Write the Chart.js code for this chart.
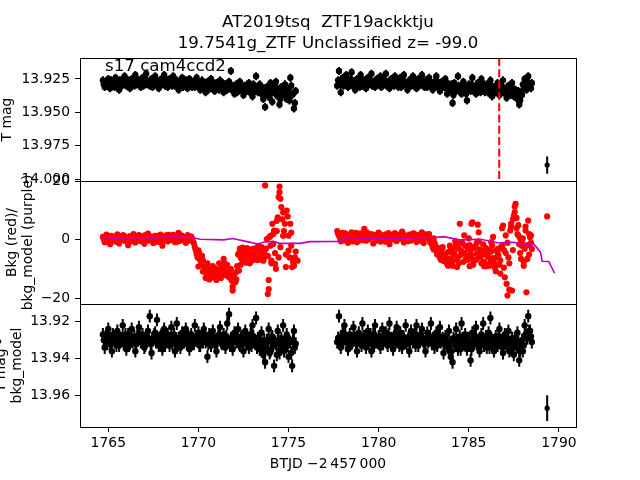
<!DOCTYPE html>
<html><head><meta charset="utf-8">
<script src="https://cdn.jsdelivr.net/npm/chart.js@4/dist/chart.umd.min.js"></script>
<style>html,body{margin:0;padding:0;background:#fff;}canvas{display:block;}</style>
</head><body>
<canvas id="c" width="640" height="480"></canvas>
<script>
// ---- data ----
const seg1Time = [1764.7,1764.8,1764.9,
1765.0,1765.1,1765.2,1765.3,1765.4,1765.5,1765.6,1765.7,1765.8,1765.9,
1766.0,1766.1,1766.2,1766.3,1766.4,1766.5,1766.6,1766.7,1766.8,1766.9,
1767.0,1767.1,1767.2,1767.3,1767.4,1767.5,1767.6,1767.7,1767.8,1767.9,
1768.0,1768.1,1768.2,1768.3,1768.4,1768.5,1768.6,1768.7,1768.8,1768.9,
1769.0,1769.1,1769.2,1769.3,1769.4,1769.5,1769.6,1769.7,1769.8,1769.9,
1770.0,1770.1,1770.2,1770.3,1770.4,1770.5,1770.6,1770.7,1770.8,1770.9,
1771.0,1771.1,1771.2,1771.3,1771.4,1771.5,1771.6,1771.7,1771.8,1771.9,
1772.0,1772.1,1772.2,1772.3,1772.4,1772.5,1772.6,1772.7,1772.8,1772.9,
1773.0,1773.1,1773.2,1773.3,1773.4,1773.5,1773.6,1773.7,1773.8,1773.9,
1774.0,1774.1,1774.2,1774.3,1774.4,1774.5,1774.6,1774.7,1774.8,1774.9,
1775.0,1775.1,1775.2,1775.3,1775.4];
const seg1TimeB = [1764.75,1764.85,1764.95,
1765.05,1765.15,1765.25,1765.35,1765.45,1765.55,1765.65,1765.75,1765.85,1765.95,
1766.05,1766.15,1766.25,1766.35,1766.45,1766.55,1766.65,1766.75,1766.85,1766.95,
1767.05,1767.15,1767.25,1767.35,1767.45,1767.55,1767.65,1767.75,1767.85,1767.95,
1768.05,1768.15,1768.25,1768.35,1768.45,1768.55,1768.65,1768.75,1768.85,1768.95,
1769.05,1769.15,1769.25,1769.35,1769.45,1769.55,1769.65,1769.75,1769.85,1769.95,
1770.05,1770.15,1770.25,1770.35,1770.45,1770.55,1770.65,1770.75,1770.85,1770.95,
1771.05,1771.15,1771.25,1771.35,1771.45,1771.55,1771.65,1771.75,1771.85,1771.95,
1772.05,1772.15,1772.25,1772.35,1772.45,1772.55,1772.65,1772.75,1772.85,1772.95,
1773.05,1773.15,1773.25,1773.35,1773.45,1773.55,1773.65,1773.75,1773.85,1773.95,
1774.05,1774.15,1774.25,1774.35,1774.45,1774.55,1774.65,1774.75,1774.85,1774.95,
1775.05,1775.15,1775.25,1775.35];
const seg2Time = [1777.7,1777.8,1777.9,
1778.0,1778.1,1778.2,1778.3,1778.4,1778.5,1778.6,1778.7,1778.8,1778.9,
1779.0,1779.1,1779.2,1779.3,1779.4,1779.5,1779.6,1779.7,1779.8,1779.9,
1780.0,1780.1,1780.2,1780.3,1780.4,1780.5,1780.6,1780.7,1780.8,1780.9,
1781.0,1781.1,1781.2,1781.3,1781.4,1781.5,1781.6,1781.7,1781.8,1781.9,
1782.0,1782.1,1782.2,1782.3,1782.4,1782.5,1782.6,1782.7,1782.8,1782.9,
1783.0,1783.1,1783.2,1783.3,1783.4,1783.5,1783.6,1783.7,1783.8,1783.9,
1784.0,1784.1,1784.2,1784.3,1784.4,1784.5,1784.6,1784.7,1784.8,1784.9,
1785.0,1785.1,1785.2,1785.3,1785.4,1785.5,1785.6,1785.7,1785.8,1785.9,
1786.0,1786.1,1786.2,1786.3,1786.4,1786.5,1786.6,1786.7,1786.8,1786.9,
1787.0,1787.1,1787.2,1787.3,1787.4,1787.5,1787.6,1787.7,1787.8,1787.9,
1788.0,1788.1,1788.2,1788.3,1788.4,1788.5];
const seg2TimeB = [1777.75,1777.85,1777.95,
1778.05,1778.15,1778.25,1778.35,1778.45,1778.55,1778.65,1778.75,1778.85,1778.95,
1779.05,1779.15,1779.25,1779.35,1779.45,1779.55,1779.65,1779.75,1779.85,1779.95,
1780.05,1780.15,1780.25,1780.35,1780.45,1780.55,1780.65,1780.75,1780.85,1780.95,
1781.05,1781.15,1781.25,1781.35,1781.45,1781.55,1781.65,1781.75,1781.85,1781.95,
1782.05,1782.15,1782.25,1782.35,1782.45,1782.55,1782.65,1782.75,1782.85,1782.95,
1783.05,1783.15,1783.25,1783.35,1783.45,1783.55,1783.65,1783.75,1783.85,1783.95,
1784.05,1784.15,1784.25,1784.35,1784.45,1784.55,1784.65,1784.75,1784.85,1784.95,
1785.05,1785.15,1785.25,1785.35,1785.45,1785.55,1785.65,1785.75,1785.85,1785.95,
1786.05,1786.15,1786.25,1786.35,1786.45,1786.55,1786.65,1786.75,1786.85,1786.95,
1787.05,1787.15,1787.25,1787.35,1787.45,1787.55,1787.65,1787.75,1787.85,1787.95,
1788.05,1788.15,1788.25,1788.35,1788.45];

// T mag
const tmag1 = [13.926,13.931,13.929,13.925,13.932,13.927,13.930,13.924,13.929,13.933,
13.926,13.928,13.923,13.930,13.926,13.932,13.925,13.928,13.922,13.929,
13.926,13.931,13.924,13.928,13.921,13.927,13.930,13.925,13.929,13.923,
13.928,13.932,13.926,13.929,13.922,13.927,13.931,13.925,13.928,13.923,
13.930,13.926,13.933,13.927,13.924,13.929,13.926,13.932,13.925,13.929,
13.927,13.931,13.924,13.929,13.933,13.926,13.930,13.935,13.927,13.931,
13.925,13.930,13.934,13.928,13.932,13.926,13.931,13.935,13.929,13.933,
13.927,13.919,13.931,13.936,13.929,13.933,13.927,13.932,13.937,13.930,
13.934,13.928,13.933,13.938,13.930,13.923,13.935,13.929,13.936,13.940,
13.946,13.931,13.937,13.928,13.942,13.934,13.927,13.938,13.944,13.931,
13.936,13.929,13.940,13.933,13.924,13.937,13.947,13.934];
const tmag1B = [13.929,13.927,13.930,13.928,13.926,13.929,13.931,13.927,13.929,13.926,
13.930,13.928,13.927,13.929,13.931,13.926,13.928,13.930,13.927,13.929,
13.926,13.928,13.930,13.925,13.929,13.927,13.928,13.931,13.926,13.929,
13.927,13.929,13.925,13.928,13.930,13.926,13.929,13.927,13.930,13.926,
13.928,13.930,13.927,13.929,13.931,13.928,13.930,13.927,13.929,13.931,
13.928,13.930,13.927,13.931,13.929,13.932,13.928,13.930,13.933,13.929,
13.932,13.928,13.931,13.929,13.933,13.930,13.928,13.932,13.930,13.931,
13.929,13.933,13.930,13.932,13.935,13.929,13.931,13.934,13.930,13.933,
13.931,13.935,13.932,13.929,13.934,13.931,13.933,13.930,13.935,13.932,
13.936,13.933,13.939,13.931,13.935,13.930,13.937,13.933,13.940,13.934,
13.931,13.937,13.935,13.941,13.930,13.936,13.943];
const tmag2 = [13.930,13.919,13.935,13.924,13.929,13.922,13.931,13.926,13.920,13.928,
13.933,13.925,13.929,13.922,13.930,13.926,13.932,13.924,13.928,13.921,
13.927,13.931,13.925,13.929,13.923,13.930,13.926,13.921,13.928,13.932,
13.925,13.929,13.923,13.927,13.931,13.924,13.929,13.922,13.928,13.933,
13.926,13.930,13.923,13.928,13.932,13.925,13.929,13.922,13.930,13.926,
13.931,13.924,13.929,13.933,13.927,13.923,13.930,13.934,13.927,13.931,
13.925,13.936,13.929,13.933,13.943,13.928,13.934,13.923,13.931,13.936,
13.927,13.932,13.941,13.929,13.934,13.924,13.931,13.936,13.928,13.933,
13.925,13.930,13.935,13.929,13.933,13.926,13.938,13.931,13.935,13.928,
13.937,13.932,13.926,13.934,13.939,13.930,13.935,13.928,13.938,13.933,
13.940,13.944,13.936,13.929,13.925,13.933,13.923,13.930,13.928];
const tmag2B = [13.926,13.929,13.927,13.930,13.926,13.928,13.929,13.925,13.930,13.927,
13.929,13.927,13.931,13.926,13.928,13.930,13.927,13.929,13.926,13.930,
13.928,13.926,13.929,13.927,13.931,13.928,13.926,13.930,13.927,13.929,
13.926,13.930,13.928,13.927,13.929,13.931,13.926,13.928,13.930,13.927,
13.929,13.927,13.930,13.926,13.928,13.930,13.927,13.929,13.931,13.928,
13.927,13.930,13.928,13.931,13.929,13.927,13.932,13.929,13.931,13.928,
13.932,13.930,13.934,13.929,13.937,13.931,13.933,13.930,13.935,13.932,
13.930,13.936,13.931,13.933,13.929,13.934,13.931,13.933,13.930,13.935,
13.932,13.929,13.934,13.931,13.936,13.930,13.933,13.935,13.931,13.934,
13.930,13.935,13.932,13.936,13.931,13.934,13.937,13.932,13.935,13.938,
13.934,13.941,13.937,13.932,13.930,13.927,13.929,13.932];
const tmagErr = 0.003;
const loneTime = 1789.35;
const loneTmag = 13.9894;
const loneTmagErr = 0.0065;

// Background (red) and background model (purple)
const bkg1 = [1.0,-0.8,1.8,0.2,-1.5,1.2,0.5,-0.6,1.9,-1.2,
0.8,1.5,-0.3,0.9,-1.8,1.3,0.1,2.0,-0.9,0.6,
1.6,-0.4,1.1,-1.3,0.7,2.1,-0.2,1.0,-1.1,1.4,
0.3,-0.7,1.8,-2.0,0.9,1.5,-0.5,1.2,0.0,1.7,
-0.8,0.6,2.4,-0.3,1.3,0.4,-1.0,1.6,0.2,1.1,
-0.6,-2.5,-4.8,-3.6,-7.0,-5.5,-9.2,-13.0,-8.0,-10.5,
-12.0,-9.0,-11.5,-13.7,-10.2,-12.5,-9.5,-6.5,-11.0,-8.5,
-12.8,-10.0,-16.0,-13.0,-11.0,-5.0,-3.0,-6.5,-4.2,-7.5,
-2.8,-5.8,-4.0,-7.0,-3.5,-6.2,-2.2,-5.0,-2.5,-7.1,
18.6,0.3,-13.7,-2.0,5.5,3.2,-9.9,7.7,18.2,11.2,
9.4,5.5,10.0,-3.7,5.5,-9.3,-8.8,-4.0];
const bkg1B = [0.2,1.1,-0.4,0.8,1.4,-0.2,0.6,1.2,-0.6,0.9,
0.3,1.5,-0.1,0.7,1.0,-0.5,0.4,1.3,0.0,0.8,
-0.3,1.1,0.5,1.6,-0.2,0.7,1.2,0.1,-0.8,0.9,
1.4,0.2,0.6,-0.4,1.0,0.3,1.7,-0.1,0.8,0.5,
1.2,-0.6,0.4,1.5,0.0,0.9,0.6,-0.3,1.1,0.4,
-1.2,-3.5,-6.0,-4.5,-8.5,-7.0,-10.8,-9.5,-11.8,-10.0,
-12.5,-10.8,-9.8,-12.0,-11.2,-13.0,-10.5,-8.0,-12.2,-10.6,
-11.5,-13.5,-12.0,-14.5,-9.0,
-4.5,-6.0,-3.5,-5.5,-7.8,-4.8,-3.2,-6.5,-5.0,-4.0,-6.8,-3.0,-5.8,-4.2,-6.0,
-3.0,-5.5,1.0,-8.0,2.0,-4.5,6.5,-6.0,14.0,7.0,
3.0,-5.0,8.0,-6.0,2.5,-7.5,-6.0];
const bkg2 = [3.0,1.5,-0.5,2.4,0.3,1.8,-1.0,1.2,2.6,0.1,
1.6,-0.8,1.0,2.2,0.4,3.8,-0.3,1.4,0.8,2.0,
-1.2,1.1,0.5,2.5,-0.6,1.3,0.0,1.9,0.7,-1.5,
1.7,0.2,2.3,-0.4,1.0,0.6,2.8,-0.9,1.4,0.3,
1.8,-0.2,2.1,0.9,-0.7,1.5,0.4,2.6,-1.1,1.2,
0.7,2.0,0.0,-2.5,-1.0,-4.0,-2.8,-6.0,-3.5,-7.2,
-5.0,-8.2,-6.5,-3.0,-8.8,-4.5,-1.5,-6.0,5.5,-3.8,
-7.5,-2.0,-5.5,0.5,-4.0,6.0,-2.8,-6.8,5.2,-3.2,
-8.0,-1.5,-5.0,-9.0,-3.5,-6.5,-2.0,-7.8,-10.7,-4.5,
-8.5,-2.5,4.9,-12.8,-15.0,-6.0,3.2,-17.3,8.3,12.3,
2.0,-1.5,-6.5,0.5,-3.0,-17.9,6.6,0.9,-3.1];
const bkg2B = [2.0,0.8,1.6,-0.2,2.2,1.0,0.4,1.8,-0.5,1.3,
2.4,0.6,1.1,-0.1,1.9,0.7,2.6,0.2,1.4,0.9,
1.7,-0.3,1.2,2.0,0.5,1.5,-0.6,1.0,2.3,0.3,
1.6,0.9,-0.2,1.8,1.1,0.4,2.1,0.6,1.3,-0.4,
1.5,0.8,2.2,0.2,1.0,1.7,-0.3,1.2,0.5,1.9,
1.0,-0.8,-1.5,
-3.2,-2.0,-5.0,-4.0,-6.8,-2.5,-5.8,
-7.0,-4.2,-2.0,-6.2,-4.8,-0.5,-7.0,-3.0,-5.2,-1.0,
-4.5,-6.5,-3.0,-1.8,-5.5,-7.2,-2.2,-4.8,-0.5,-6.0,
-3.8,-7.5,-2.8,-5.2,-8.2,-4.0,-6.2,-9.0,-3.5,-5.5,
-7.0,-2.0,-9.5,-4.5,-1.0,-8.0,5.5,-3.5,9.5,4.0,
1.5,-4.5,-2.0,-7.5,4.5,-1.8,-5.0,1.5];
const bkgExtraTime = [1770.0,1770.45,1770.8,1771.15,1771.35,1771.9,1771.85,1772.25,1772.1,1772.35,
1772.65,1772.85,1773.05,1773.35,1773.55,1773.9,1773.85,1774.0,1774.05,1774.15,
1774.35,1774.5,1774.45,1774.55,1774.7,1774.85,1775.0,1775.15,1775.5,1774.25,
1773.65,1772.45,1772.95,1771.55,1770.6,1770.25,
1783.05,1783.45,1783.85,1784.05,1784.25,1784.45,1784.55,1784.75,1784.95,1785.15,
1785.25,1785.45,1785.55,1785.75,1785.85,1786.05,1786.15,1786.35,1786.45,1786.55,
1786.75,1786.85,1786.95,1787.05,1787.15,1787.25,1787.35,1787.45,1787.55,1787.65,
1787.75,1787.85,1787.95,1788.05,1788.15,1788.25,1788.35,1788.45,1785.05,1784.35,
1786.25,1786.65,1789.35];
const bkgExtraVals = [-9.1,-11.5,-12.8,-8.0,-12.0,-17.3,-14.0,-10.5,-13.5,-8.5,
-4.8,-8.0,-3.0,-6.8,-5.4,-16.8,-18.5,1.4,-7.1,-1.4,
3.0,16.3,14.6,-2.5,1.4,-9.3,1.4,-2.0,-7.1,-8.2,
-4.0,-2.6,-5.5,-9.8,-13.5,-10.8,
0.5,-5.0,-8.8,-7.5,-2.5,-8.0,-1.0,1.5,-6.8,5.5,
-8.5,-1.0,2.6,-4.5,-9.0,-5.8,-8.8,1.0,-9.5,-6.0,
-11.5,4.0,-3.5,1.5,-19.0,-17.0,4.5,7.0,11.4,7.5,
5.0,0.5,-0.6,-8.8,3.2,-6.5,2.0,-1.0,-9.0,-9.3,
-0.8,-3.0,8.0];
const modelTime = [1764.63,1765.5,1766.5,1767.5,1768.3,1768.8,1769.7,1770.1,1771.4,1771.9,
1772.7,1773.3,1773.6,1774.15,1774.5,1775.6,1776.2,1777.7,1778.4,1779.35,
1781.0,1783.05,1783.6,1784.5,1785.65,1786.6,1787.5,1788.25,1788.6,1788.98,
1789.07,1789.44,1789.76];
const modelVals = [0.7,0.6,0.8,0.6,1.0,1.1,0.7,0.2,0.0,0.45,
-0.6,-1.4,-0.8,-0.5,-1.2,-1.2,-0.6,-0.5,0.8,0.45,
0.5,0.8,1.1,0.0,0.2,-1.0,-0.8,-1.7,-1.4,-4.2,
-7.3,-7.4,-11.4];

// T mag - bkg_model
const diff1 = [13.927,13.934,13.929,13.924,13.932,13.936,13.928,13.931,13.925,13.933,
13.929,13.922,13.930,13.935,13.927,13.932,13.924,13.930,13.936,13.928,
13.923,13.931,13.927,13.934,13.929,13.925,13.917,13.937,13.930,13.926,
13.919,13.933,13.928,13.935,13.924,13.931,13.927,13.933,13.923,13.930,
13.936,13.921,13.929,13.934,13.926,13.931,13.924,13.929,13.935,13.927,
13.932,13.922,13.930,13.926,13.933,13.928,13.924,13.931,13.939,13.927,
13.933,13.925,13.930,13.936,13.928,13.923,13.932,13.927,13.934,13.921,
13.916,13.929,13.935,13.926,13.931,13.924,13.933,13.928,13.936,13.925,
13.930,13.934,13.927,13.922,13.931,13.918,13.929,13.935,13.926,13.938,
13.942,13.930,13.924,13.936,13.928,13.944,13.932,13.925,13.937,13.929,
13.922,13.934,13.927,13.939,13.931,13.944,13.925,13.932];
const diff1B = [13.930,13.928,13.932,13.929,13.931,13.927,13.930,13.933,13.928,13.931,
13.929,13.932,13.927,13.930,13.933,13.929,13.931,13.928,13.932,13.930,
13.927,13.931,13.929,13.933,13.928,13.930,13.932,13.929,13.927,13.931,
13.929,13.932,13.927,13.930,13.933,13.928,13.931,13.929,13.932,13.927,
13.930,13.933,13.929,13.931,13.927,13.930,13.932,13.928,13.931,13.929,
13.932,13.928,13.930,13.933,13.929,13.931,13.927,13.930,13.932,13.929,
13.931,13.928,13.933,13.930,13.927,13.931,13.929,13.932,13.928,13.930,
13.933,13.929,13.931,13.927,13.930,13.932,13.929,13.931,13.928,13.932,
13.929,13.931,13.933,13.928,13.930,13.934,13.929,13.932,13.936,13.930,
13.934,13.931,13.937,13.929,13.933,13.931,13.938,13.930,13.934,13.932,
13.936,13.929,13.933,13.931,13.937,13.930,13.934];
const diff2 = [13.931,13.917,13.934,13.926,13.922,13.930,13.935,13.927,13.932,13.923,
13.929,13.936,13.926,13.931,13.921,13.928,13.934,13.925,13.930,13.936,
13.927,13.922,13.931,13.928,13.934,13.924,13.930,13.926,13.933,13.921,
13.929,13.935,13.927,13.923,13.931,13.926,13.934,13.929,13.922,13.930,
13.936,13.925,13.931,13.927,13.922,13.933,13.928,13.924,13.931,13.936,
13.926,13.930,13.921,13.929,13.934,13.926,13.931,13.923,13.930,13.937,
13.928,13.933,13.925,13.939,13.942,13.930,13.924,13.935,13.928,13.921,
13.932,13.927,13.935,13.929,13.941,13.926,13.932,13.923,13.930,13.936,
13.927,13.921,13.931,13.934,13.926,13.918,13.930,13.936,13.928,13.933,
13.924,13.930,13.937,13.927,13.932,13.925,13.935,13.929,13.938,13.931,
13.926,13.941,13.933,13.936,13.922,13.929,13.917,13.925,13.931];
const diff2B = [13.929,13.932,13.928,13.931,13.927,13.930,13.933,13.929,13.931,13.928,
13.932,13.929,13.930,13.933,13.928,13.931,13.929,13.932,13.927,13.930,
13.933,13.929,13.931,13.928,13.930,13.932,13.929,13.931,13.927,13.930,
13.932,13.928,13.931,13.929,13.933,13.930,13.928,13.931,13.932,13.929,
13.931,13.928,13.930,13.933,13.929,13.931,13.927,13.930,13.932,13.929,
13.931,13.928,13.932,13.930,13.929,13.933,13.928,13.931,13.929,13.932,
13.930,13.934,13.931,13.936,13.929,13.933,13.930,13.932,13.935,13.929,
13.931,13.933,13.929,13.932,13.935,13.930,13.928,13.932,13.934,13.929,
13.931,13.933,13.928,13.931,13.934,13.929,13.932,13.930,13.933,13.928,
13.931,13.934,13.929,13.932,13.930,13.936,13.931,13.933,13.929,13.934,
13.931,13.936,13.930,13.933,13.927,13.929,13.925,13.928];
const diffErr = 0.0035;
const loneDiff = 13.967;
const loneDiffErr = 0.007;

const markerTime = 1786.69;
const xTicks = [1765,1770,1775,1780,1785,1790];
const y1Ticks = [13.925,13.950,13.975,14.000];
const y2Ticks = [-20,0,20];
const y3Ticks = [13.92,13.94,13.96];
const titleLines = ['AT2019tsq  ZTF19ackktju','19.7541g_ZTF Unclassified z= -99.0'];
const panelNote = 's17 cam4ccd2';

// ---- build ----
const FAM = '"DejaVu Sans", sans-serif';
const pts = (xs, ys) => xs.map((t,i)=>({x:t, y:ys[i]}));
const tmagPts = pts(seg1Time,tmag1).concat(pts(seg1TimeB,tmag1B), pts(seg2Time,tmag2), pts(seg2TimeB,tmag2B));
const diffPts = pts(seg1Time,diff1).concat(pts(seg1TimeB,diff1B), pts(seg2Time,diff2), pts(seg2TimeB,diff2B));
const bkgPts = pts(seg1Time,bkg1).concat(pts(seg1TimeB,bkg1B), pts(seg2Time,bkg2), pts(seg2TimeB,bkg2B), pts(bkgExtraTime,bkgExtraVals));
const modelPts = pts(modelTime,modelVals);

const minus = s => String(s).replace('-', '\u2212');

function yScale(extra){
  return Object.assign({
    type:'linear', position:'left', stack:'panels', stackWeight:1, offset:false,
    border:{display:false},
    grid:{drawOnChartArea:false, drawTicks:true, tickLength:5, tickColor:'#000', tickWidth:1},
    afterFit(s){ s.width = 60; }
  }, extra);
}
const tickFont = {family:FAM, size:13.9};

const errPlugin = {
  id:'errbars',
  beforeDatasetsDraw(chart){
    const ctx = chart.ctx;
    chart.data.datasets.forEach((ds,di)=>{
      if(!ds.errVal) return;
      const meta = chart.getDatasetMeta(di);
      const xs = chart.scales[meta.xAxisID], ys = chart.scales[meta.yAxisID];
      ctx.save();
      ctx.strokeStyle = '#000'; ctx.lineWidth = 2;
      ctx.beginPath();
      ds.data.forEach(p=>{
        const px = xs.getPixelForValue(p.x);
        ctx.moveTo(px, ys.getPixelForValue(p.y - ds.errVal));
        ctx.lineTo(px, ys.getPixelForValue(p.y + ds.errVal));
      });
      ctx.stroke(); ctx.restore();
    });
  }
};

function vtext(ctx, text, x, y){
  ctx.save(); ctx.translate(x,y); ctx.rotate(-Math.PI/2);
  ctx.textAlign='center'; ctx.textBaseline='alphabetic';
  ctx.fillText(text,0,0); ctx.restore();
}

const decorPlugin = {
  id:'decor',
  afterDatasetsDraw(chart){
    const {ctx, scales} = chart;
    const xp = scales.x.getPixelForValue(markerTime);
    ctx.save();
    ctx.strokeStyle = '#ff0000'; ctx.lineWidth = 2; ctx.setLineDash([8,3.3]);
    ctx.beginPath(); ctx.moveTo(xp, scales.y1.top); ctx.lineTo(xp, scales.y1.bottom); ctx.stroke();
    ctx.restore();
  },
  afterDraw(chart){
    const {ctx, chartArea:a, scales} = chart;
    ctx.save();
    ctx.strokeStyle = '#000'; ctx.lineWidth = 1;
    ['y1','y2','y3'].forEach(id=>{
      const s = scales[id];
      ctx.strokeRect(Math.round(a.left)+0.5, Math.round(s.top)+0.5, Math.round(a.right-a.left), Math.round(s.bottom-s.top));
    });
    ctx.fillStyle = '#000';
    ctx.font = '16.67px ' + FAM; ctx.textAlign='center'; ctx.textBaseline='alphabetic';
    const cx = (a.left + a.right)/2;
    ctx.fillText(titleLines[0], cx, 27);
    ctx.fillText(titleLines[1], cx, 48);
    ctx.textAlign='left';
    ctx.fillText(panelNote, 105, 71);
    ctx.font = '13.9px ' + FAM;
    ctx.textAlign='center';
    ctx.fillText('BTJD \u22122\u2009457\u2009000', cx, 468);
    const c1 = (scales.y1.top+scales.y1.bottom)/2;
    const c2 = (scales.y2.top+scales.y2.bottom)/2;
    const c3 = (scales.y3.top+scales.y3.bottom)/2;
    vtext(ctx, 'T mag', 10.8, c1);
    vtext(ctx, 'Bkg (red)/', 15.5, c2);
    vtext(ctx, 'bkg_model (purple)', 32.2, c2);
    vtext(ctx, 'T mag -', 4.5, c3);
    vtext(ctx, 'bkg_model', 21.2, c3);
    ctx.restore();
  }
};

const ptStyle = (c,r) => ({pointRadius:r, pointHoverRadius:r, pointBorderWidth:0, pointBackgroundColor:c, backgroundColor:c, borderColor:c, showLine:false});

new Chart(document.getElementById('c'), {
  type:'scatter',
  data:{datasets:[
    {label:'bkg model', data:modelPts, yAxisID:'y2', showLine:true, pointRadius:0, borderColor:'#bf00bf', borderWidth:1.6, fill:false, order:0},
    Object.assign({label:'bkg', data:bkgPts, yAxisID:'y2', order:1}, ptStyle('#ff0000',3.1)),
    Object.assign({label:'tmag', data:tmagPts, yAxisID:'y1', order:2, errVal:tmagErr}, ptStyle('#000',3.2)),
    Object.assign({label:'tmag lone', data:[{x:loneTime,y:loneTmag}], yAxisID:'y1', order:2, errVal:loneTmagErr}, ptStyle('#000',2.6)),
    Object.assign({label:'diff', data:diffPts, yAxisID:'y3', order:2, errVal:diffErr}, ptStyle('#000',3.2)),
    Object.assign({label:'diff lone', data:[{x:loneTime,y:loneDiff}], yAxisID:'y3', order:2, errVal:loneDiffErr}, ptStyle('#000',2.6))
  ]},
  options:{
    responsive:false, animation:false, devicePixelRatio:1,
    layout:{padding:{left:20, right:64, top:58, bottom:23}},
    plugins:{legend:{display:false}, tooltip:{enabled:false}, title:{display:false}},
    scales:{
      x:{type:'linear', position:'bottom', min:1763.43, max:1790.95,
        border:{display:false},
        grid:{drawOnChartArea:false, drawTicks:true, tickLength:5, tickColor:'#000', tickWidth:1},
        afterBuildTicks(s){ s.ticks = xTicks.map(v=>({value:v})); },
        afterFit(s){ s.height = 30; },
        ticks:{color:'#000', font:tickFont, padding:3, maxRotation:0, autoSkip:false, callback:v=>String(v)}
      },
      // stacked panels: the first defined is placed at the bottom
      y3:yScale({reverse:true, min:13.9104, max:13.9772,
        afterBuildTicks(s){ s.ticks = y3Ticks.map(v=>({value:v})); },
        ticks:{color:'#000', font:tickFont, padding:5, autoSkip:false, callback:v=>Number(v).toFixed(2)}}),
      y2:yScale({min:-21.9, max:20.1,
        afterBuildTicks(s){ s.ticks = y2Ticks.map(v=>({value:v})); },
        ticks:{color:'#000', font:tickFont, padding:5, autoSkip:false, callback:v=>minus(v)}}),
      y1:yScale({reverse:true, min:13.9093, max:14.0013,
        afterBuildTicks(s){ s.ticks = y1Ticks.map(v=>({value:v})); },
        ticks:{color:'#000', font:tickFont, padding:5, autoSkip:false, callback:v=>Number(v).toFixed(3)}})
    }
  },
  plugins:[errPlugin, decorPlugin]
});
</script>
</body></html>
